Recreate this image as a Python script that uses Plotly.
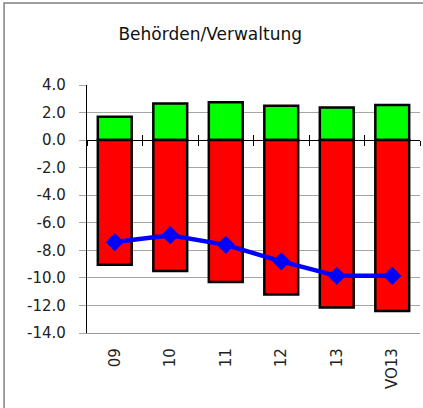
import plotly.graph_objects as go

categories = ["09", "10", "11", "12", "13", "VO13"]
positive = [1.7, 2.65, 2.75, 2.5, 2.37, 2.55]
negative = [-9.05, -9.5, -10.3, -11.2, -12.15, -12.4]
balance = [-7.4, -6.9, -7.6, -8.8, -9.85, -9.85]
y_ticks = [4, 2, 0, -2, -4, -6, -8, -10, -12, -14]
y_labels = ["4.0", "2.0", "0.0", "-2.0", "-4.0", "-6.0", "-8.0", "-10.0", "-12.0", "-14.0"]

FONT = "DejaVu Sans"

fig = go.Figure()
# green and red bars never overlap (one is positive, one negative), so each can
# sit on its own overlaid x axis; that lets the y=0 axis carry crossing ticks
fig.add_trace(go.Bar(
    x=categories, y=positive, xaxis="x", yaxis="y",
    marker=dict(color="#00ff00", line=dict(color="black", width=2.5)),
))
fig.add_trace(go.Bar(
    x=categories, y=negative, xaxis="x2", yaxis="y",
    marker=dict(color="#ff0000", line=dict(color="black", width=2.5)),
))
fig.add_trace(go.Scatter(
    x=categories, y=balance, xaxis="x3", yaxis="y",
    mode="lines+markers",
    line=dict(color="#0000ff", width=4.5),
    marker=dict(symbol="diamond", size=14, color="#0000ff"),
))

zero_pos = 14 / 18
for name, ticks in (("xaxis2", "outside"), ("xaxis3", "inside")):
    fig.update_layout(**{name: dict(
        overlaying="x", anchor="free", position=zero_pos, matches="x",
        type="category", categoryarray=categories, tickson="boundaries",
        automargin=False,
        showline=True, linecolor="black", linewidth=1.2,
        ticks=ticks, ticklen=5, tickcolor="black", tickwidth=1,
        showticklabels=False, showgrid=False, zeroline=False,
    )})

# outer chart border
fig.add_shape(type="rect", xref="paper", yref="paper",
              x0=-0.249, x1=1.2, y0=-0.6, y1=1.331,
              line=dict(color="#808080", width=1.5), fillcolor="rgba(0,0,0,0)")

fig.update_layout(
    width=423, height=408,
    margin=dict(l=87, r=3, t=85, b=75, autoexpand=False),
    barmode="relative", bargap=0.39,
    showlegend=False,
    plot_bgcolor="white", paper_bgcolor="white",
    font=dict(family=FONT, size=14, color="#222"),
    title=dict(text="Behörden/Verwaltung", x=0.497, xref="container", xanchor="center",
               y=0.917, yref="container", yanchor="middle",
               font=dict(family=FONT, size=17, color="#111")),
    xaxis=dict(type="category", categoryarray=categories, automargin=False,
               tickangle=-90, ticks="", showline=True, linecolor="#999", linewidth=1.2,
               showgrid=False, ticklabelstandoff=8,
               tickfont=dict(size=15)),
    yaxis=dict(range=[-14, 4], tickvals=y_ticks, ticktext=y_labels, automargin=False,
               showgrid=True, gridcolor="#a6a6a6", gridwidth=1.2,
               zeroline=False, showline=True, linecolor="black", linewidth=1.2,
               ticks="outside", ticklen=7, tickcolor="#a6a6a6",
               ticklabelstandoff=10, tickfont=dict(size=15)),
)

fig.write_html(
    "out.html",
    config={"displayModeBar": False},
    post_script="document.body.style.margin='0';document.body.style.overflow='hidden';",
)
